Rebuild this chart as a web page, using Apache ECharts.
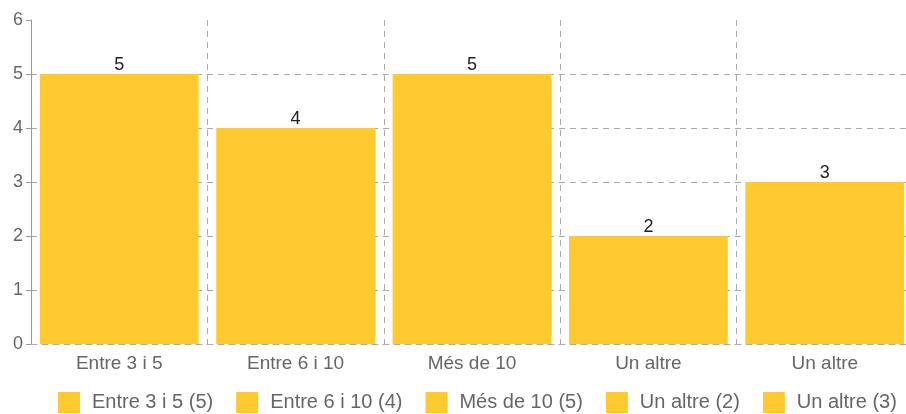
<!DOCTYPE html>
<html>
<head>
<meta charset="utf-8">
<script src="https://cdn.jsdelivr.net/npm/echarts@6/dist/echarts.min.js"></script>
<style>
  html, body { margin: 0; padding: 0; background: #fff; }
  #chart { width: 906px; height: 414px; }
</style>
</head>
<body>
<div id="chart"></div>
<script>
const categories = ['Entre 3 i 5', 'Entre 6 i 10', 'Més de 10', 'Un altre', 'Un altre']
const values = [5, 4, 5, 2, 3]
const legendNames = ['Entre 3 i 5 (5)', 'Entre 6 i 10 (4)', 'Més de 10 (5)', 'Un altre (2)', 'Un altre (3)']
const yTicks = { min: 0, max: 6, interval: 1 }

const barColor = '#ffc930'
const axisColor = '#9a9a9a'
const gridColor = '#ababab'
const textColor = '#666'
const font = 'Liberation Sans, Arial, sans-serif'

// one series per bar so the legend lists each bar on its own
const series = values.map((v, i) => ({
  name: legendNames[i],
  type: 'bar',
  stack: 'all',
  barCategoryGap: '10%',
  itemStyle: { color: barColor },
  label: {
    show: true,
    position: 'top',
    distance: 0,
    color: '#222',
    fontSize: 18,
    fontFamily: font,
  },
  data: values.map((_, j) => (j === i ? v : '-')),
}))

const chart = echarts.init(document.getElementById('chart'), null, { renderer: 'canvas' })
chart.setOption({
  animation: false,
  // plot runs a little past the right edge of the canvas, as in the source
  grid: { left: 31, width: 882, top: 20, bottom: 70, outerBoundsMode: 'none' },
  legend: {
    data: legendNames,
    left: 58,
    top: 392,
    padding: 0,
    icon: 'rect',
    itemWidth: 22,
    itemHeight: 21,
    itemGap: 23,
    textStyle: { color: textColor, fontSize: 20, fontFamily: font, padding: [0, 0, 0, 7] },
  },
  xAxis: {
    type: 'category',
    data: categories,
    axisLine: { lineStyle: { color: gridColor, type: [6, 5] } },
    axisTick: { alignWithLabel: true, length: 5, lineStyle: { color: axisColor } },
    axisLabel: { color: textColor, fontSize: 19, fontFamily: font, margin: 10, interval: 0 },
    splitLine: { show: true, interval: 0, lineStyle: { color: gridColor, type: [6, 5] } },
  },
  yAxis: {
    type: 'value',
    min: yTicks.min,
    max: yTicks.max,
    interval: yTicks.interval,
    axisLine: { show: true, lineStyle: { color: axisColor } },
    axisTick: { show: true, length: 5, lineStyle: { color: axisColor } },
    axisLabel: { color: textColor, fontSize: 18, fontFamily: font, margin: 8 },
    splitLine: { show: true, showMaxLine: false, lineStyle: { color: gridColor, type: [6, 5] } },
  },
  series,
})
</script>
</body>
</html>
